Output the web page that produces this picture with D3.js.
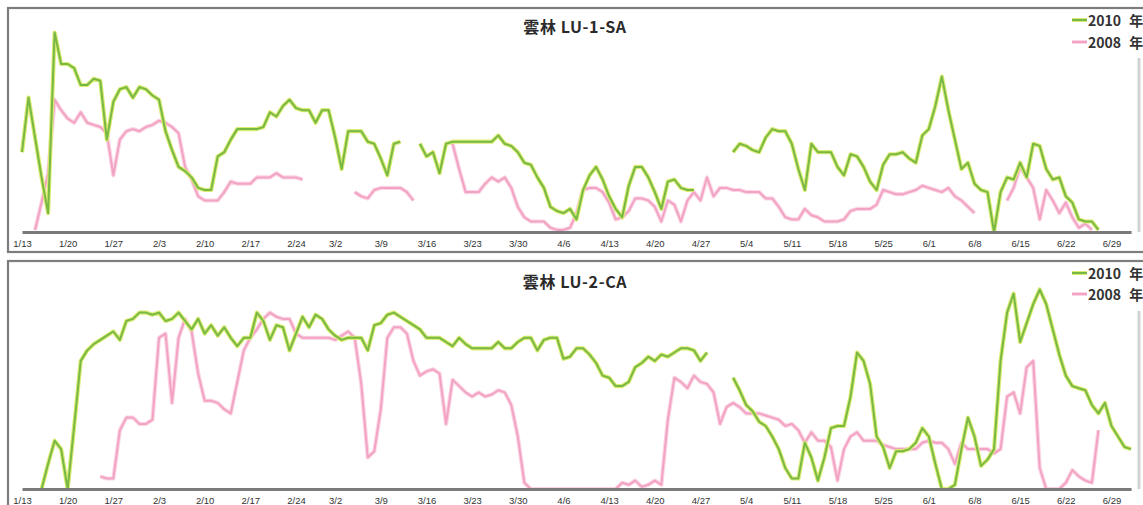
<!DOCTYPE html>
<html><head><meta charset="utf-8">
<script src="https://cdn.jsdelivr.net/npm/d3@7"></script>
<style>
html,body{margin:0;padding:0;background:#fff;}
svg{display:block;}
</style></head>
<body><svg id="c" width="1143" height="505"></svg>
<script>
// ---- data (daily values from 1/13, null = no data) ----
const startDate = "2010-01-13";
const tickLabels = ["1/13","1/20","1/27","2/3","2/10","2/17","2/24","3/2","3/9","3/16","3/23","3/30","4/6","4/13","4/20","4/27","5/4","5/11","5/18","5/25","6/1","6/8","6/15","6/22","6/29"];
const seriesNames = ["2010 年","2008 年"];
const panelTitles = ["雲林 LU-1-SA","雲林 LU-2-CA"];

const lu1_2010 = [38,64,45,26,9,95,80,80,78,70,70,73,72,44,62,68,69,64,69,68,
65,63,48,39,31,29,26,21,20,20,36,38,44,49,49,49,49,50,57,55,
60,63,59,58,58,52,58,58,45,30,48,48,48,43,42,35,27,42,43,null,
null,42,36,38,28,42,43,43,43,43,43,43,43,46,42,41,38,33,32,26,
21,12,10,9,11,6,20,27,31,25,17,11,7,22,31,31,26,19,11,24,
25,21,20,20,null,null,null,null,null,38,42,41,39,38,45,49,48,48,42,30,
20,42,38,38,38,31,27,37,36,31,24,20,32,37,37,38,35,33,46,49,
60,74,58,44,30,33,23,20,19,0,19,26,25,33,26,42,41,30,25,26,
17,14,6,5,5,1];

const lu1_2008 = [null,null,1,14,28,63,58,54,52,57,52,51,50,47,27,44,48,49,48,50,
51,53,52,50,47,31,25,17,15,15,15,19,24,23,23,23,26,26,26,28,
26,26,26,25,null,null,null,null,null,null,null,19,17,16,20,21,21,21,21,19,
15,null,null,null,null,null,42,30,19,19,19,23,26,24,26,21,12,7,5,5,
5,2,1,1,2,9,20,21,21,19,14,6,7,10,16,16,15,12,5,15,
13,5,15,19,15,26,17,21,21,20,20,19,19,19,16,16,12,7,6,6,
11,8,7,5,5,5,6,10,11,11,11,13,20,19,18,18,19,20,22,21,
20,19,21,17,15,12,9,null,null,null,null,15,21,31,26,21,6,20,15,9,
14,7,2,4,1];

const lu2_2010 = [null,null,null,0,12,23,19,0,30,61,66,69,71,73,75,71,80,81,84,84,
83,84,80,81,84,80,76,81,74,78,73,77,72,68,72,72,84,80,71,78,
77,66,74,82,77,83,81,76,73,71,72,72,72,66,78,79,83,84,82,80,
78,76,72,72,72,70,68,72,69,67,67,67,67,70,67,67,70,72,72,66,
71,72,72,62,63,67,67,64,60,54,53,49,49,51,58,60,63,61,64,63,
65,67,67,66,61,65,null,null,null,53,47,40,37,32,30,25,19,10,5,5,
22,15,4,15,29,30,30,44,65,61,50,25,20,10,18,18,19,22,29,25,
12,0,0,2,19,34,25,11,14,19,61,84,93,70,79,88,95,88,76,64,
54,49,48,47,40,36,41,30,25,20,19];

const lu2_2008 = [null,null,null,null,null,null,null,null,null,null,null,null,6,5,5,28,34,34,31,31,
33,72,74,41,72,81,75,55,42,42,41,38,36,51,66,72,76,81,84,82,
81,81,74,72,72,72,72,72,71,73,75,72,50,15,18,38,72,77,77,74,
61,54,56,57,55,31,52,49,46,44,46,44,45,47,46,40,25,3,0,0,
0,0,0,0,0,0,0,0,0,0,0,0,3,2,4,1,2,4,2,33,
53,51,48,54,51,50,46,31,39,41,39,36,36,36,35,34,33,30,31,28,
22,27,23,23,20,4,19,25,27,23,23,23,21,20,19,19,19,19,22,23,
22,22,19,12,22,19,19,19,19,17,19,44,46,36,58,61,10,0,0,0,
3,9,6,4,3,28];

// ---- layout ----
const svg = d3.select("#c");
const W = 1143, H = 505;
const parseDay = d3.utcParse("%Y-%m-%d");
const parseTick = d3.utcParse("%Y/%m/%d");
const t0 = parseDay(startDate);
const tickDates = tickLabels.map(s => parseTick("2010/" + s));

const x = d3.scaleUtc()
  .domain([t0, d3.utcDay.offset(t0, 170)])
  .range([22, 22 + 170 * (1096 / 168)]);

const FONT = "'Liberation Sans', Arial, sans-serif";

const panels = [
  { title: panelTitles[0], frameTop: 8, frameBottom: 252, base: 232, titleY: 26,
    legendY: [20, 42], s10: lu1_2010, s08: lu1_2008 },
  { title: panelTitles[1], frameTop: 261, frameBottom: 510, base: 489, titleY: 281,
    legendY: [273, 294], s10: lu2_2010, s08: lu2_2008 }
];

const green = { halo: "#dbeb72", core: "#78b845" };
const pink = { halo: "#fbd5e4", core: "#f2a3c4" };

function toPts(arr) {
  return arr.map((v, i) => ({ date: d3.utcDay.offset(t0, i), v }));
}

panels.forEach((p, pi) => {
  const g = svg.append("g");
  // frame
  g.append("rect")
    .attr("x", 8).attr("y", p.frameTop)
    .attr("width", W + 10).attr("height", p.frameBottom - p.frameTop)
    .attr("fill", "#fff")
    .attr("stroke", "#7d7d7d").attr("stroke-width", 2.2);
  // right side gray edge
  g.append("line")
    .attr("x1", 1139).attr("x2", 1139)
    .attr("y1", p.frameTop + 50).attr("y2", p.base)
    .attr("stroke", "#d2d2d2").attr("stroke-width", 3);

  const y = d3.scaleLinear().domain([0, 100]).range([p.base, p.base - 210]);
  const line = d3.line()
    .defined(d => d.v != null)
    .x(d => x(d.date)).y(d => y(d.v));

  const pts08 = toPts(p.s08), pts10 = toPts(p.s10);

  [[pts08, pink], [pts10, green]].forEach(([pts, col]) => {
    g.append("path").datum(pts).attr("d", line)
      .attr("fill", "none").attr("stroke", col.halo)
      .attr("stroke-width", 4.2).attr("stroke-linejoin", "round");
    g.append("path").datum(pts).attr("d", line)
      .attr("fill", "none").attr("stroke", col.core)
      .attr("stroke-width", 2).attr("stroke-linejoin", "round");
  });

  // x axis
  const ax = g.append("g")
    .attr("transform", `translate(0,${p.base})`)
    .call(d3.axisBottom(x).tickValues(tickDates)
      .tickFormat(d3.utcFormat("%-m/%-d")).tickSize(0).tickPadding(8));
  ax.select(".domain").attr("stroke", "#7a7a7a").attr("stroke-width", 3.2);
  ax.selectAll("text").attr("font-family", FONT).attr("font-size", 9.5)
    .attr("fill", "#333");

  // title
  g.append("text")
    .attr("x", 575).attr("y", p.titleY)
    .attr("text-anchor", "middle").attr("dominant-baseline", "central")
    .attr("font-family", "'Noto Sans CJK TC', " + FONT)
    .attr("font-weight", "bold").attr("font-size", 16)
    .attr("letter-spacing", 0.6)
    .attr("fill", "#2a2a2a")
    .text(p.title);

  // legend
  [[seriesNames[0], green], [seriesNames[1], pink]].forEach(([name, col], li) => {
    const ly = p.legendY[li];
    g.append("line").attr("x1", 1072).attr("x2", 1087)
      .attr("y1", ly).attr("y2", ly)
      .attr("stroke", col.halo).attr("stroke-width", 4);
    g.append("line").attr("x1", 1072).attr("x2", 1087)
      .attr("y1", ly).attr("y2", ly)
      .attr("stroke", col.core).attr("stroke-width", 2);
    g.append("text").attr("x", 1088).attr("y", ly)
      .attr("dominant-baseline", "central")
      .attr("font-family", "'Noto Sans CJK TC', " + FONT)
      .attr("font-weight", "bold").attr("font-size", 14)
      .attr("word-spacing", 5)
      .attr("fill", "#333").text(name);
  });
});
</script>
</body></html>
